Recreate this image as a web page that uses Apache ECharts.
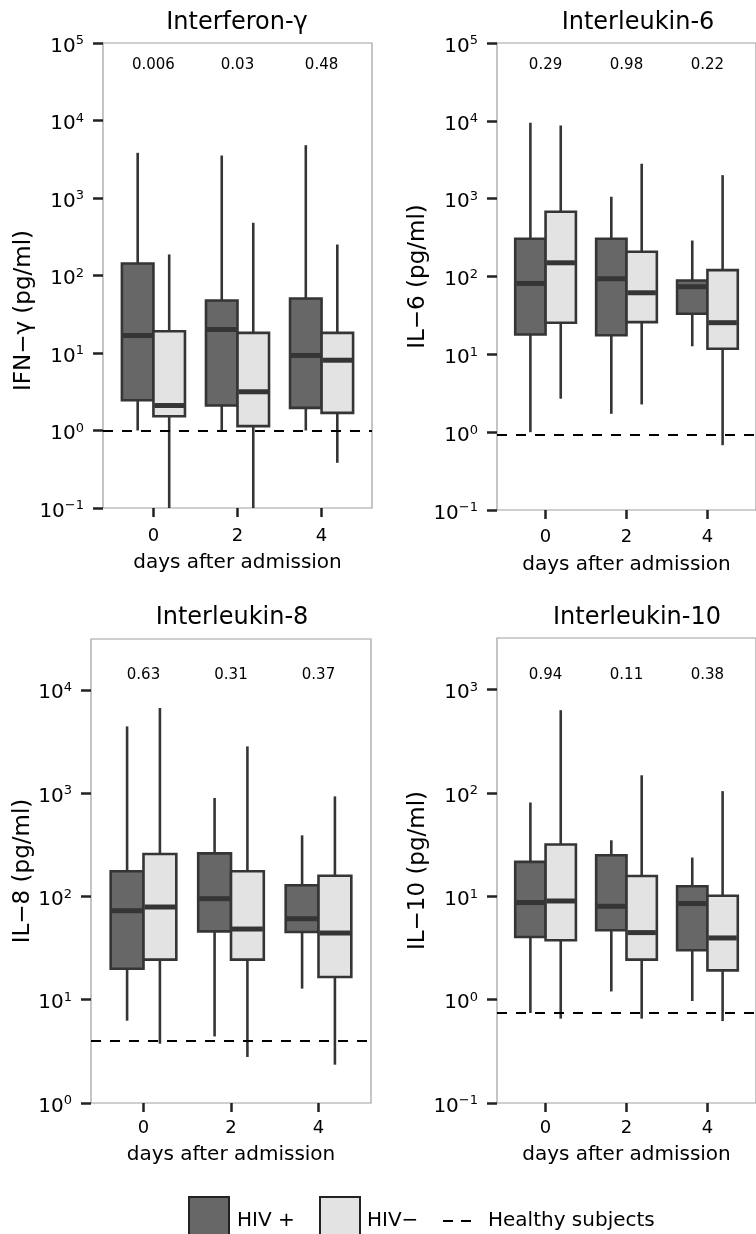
<!DOCTYPE html>
<html><head><meta charset="utf-8">
<script src="https://cdn.jsdelivr.net/npm/echarts@6/dist/echarts.min.js"></script>
<style>html,body{margin:0;padding:0;background:#fff}#c{width:756px;height:1234px}</style>
</head><body><div id="c"></div><script>
// ---------------- data ----------------
const days = [0, 2, 4];
// each row: [lower whisker, Q1, median, Q3, upper whisker]
const ifngHivPos = [[1.0, 2.46, 16.8, 143, 3830], [1.0, 2.1, 20.1, 47.6, 3535], [1.0, 1.96, 9.3, 50.5, 4800]];
const ifngHivNeg = [[0.1, 1.53, 2.1, 19.1, 187], [0.1, 1.14, 3.16, 18.2, 479], [0.383, 1.69, 8.07, 18.2, 251]];
const ifngHealthy = 1.0;
const ifngP = ['0.006', '0.03', '0.48'];

const il6HivPos = [[1.0, 18.0, 81.4, 305, 9450], [1.72, 17.6, 93.5, 305, 1058], [12.7, 33.2, 73.8, 89, 290]];
const il6HivNeg = [[2.69, 25.5, 150, 679, 8710], [2.27, 25.9, 61.8, 208, 2810], [0.68, 11.8, 25.5, 120.6, 2005]];
const il6Healthy = 0.915;
const il6P = ['0.29', '0.98', '0.22'];

const il8HivPos = [[6.26, 19.9, 72.7, 175, 4420], [4.41, 45.8, 95, 261, 897], [12.8, 45.2, 60.8, 128, 390]];
const il8HivNeg = [[3.75, 24.4, 78.9, 257, 6660], [2.79, 24.4, 48.3, 175, 2830], [2.35, 16.6, 44.2, 158.6, 929]];
const il8Healthy = 4.04;
const il8P = ['0.63', '0.31', '0.37'];

const il10HivPos = [[0.742, 4.04, 8.69, 21.5, 80.7], [1.2, 4.69, 8.0, 24.9, 34.8], [0.97, 3.0, 8.5, 12.5, 23.7]];
const il10HivNeg = [[0.655, 3.75, 9.0, 31.7, 631], [0.655, 2.44, 4.45, 15.7, 148], [0.62, 1.92, 3.95, 10.1, 104]];
const il10Healthy = 0.742;
const il10P = ['0.94', '0.11', '0.38'];

const titles = ['Interferon-γ', 'Interleukin-6', 'Interleukin-8', 'Interleukin-10'];
const yNames = ['IFN−γ (pg/ml)', 'IL−6 (pg/ml)', 'IL−8 (pg/ml)', 'IL−10 (pg/ml)'];
const xName = 'days after admission';
const yTicks = [
  [0.1, 1, 10, 100, 1000, 10000, 100000],
  [0.1, 1, 10, 100, 1000, 10000, 100000],
  [1, 10, 100, 1000, 10000],
  [0.1, 1, 10, 100, 1000]
];
const yRanges = [[0.1, 100000], [0.1, 100000], [1, 31000], [0.1, 3150]];
const legendNames = ['HIV +', 'HIV−', 'Healthy subjects'];

const panelsData = [
  { pos: ifngHivPos, neg: ifngHivNeg, healthy: ifngHealthy, p: ifngP },
  { pos: il6HivPos, neg: il6HivNeg, healthy: il6Healthy, p: il6P },
  { pos: il8HivPos, neg: il8HivNeg, healthy: il8Healthy, p: il8P },
  { pos: il10HivPos, neg: il10HivNeg, healthy: il10Healthy, p: il10P }
];

// ---------------- layout / style ----------------
const FONT = 'DejaVu Sans';
const DARK = '#676767', LIGHT = '#e3e3e3', STROKE = '#353535';
const layout = [
  { left: 103, top: 43, width: 269, height: 465, nameGap: 65, namePad: [0, 70, 0, 0], pTop: 22, tx: 237, ty: 11, xMargin: 19, xNameGap: 45 },
  { left: 497, top: 43, width: 270, height: 467, nameGap: 65, namePad: [0, 0, 0, 0], pTop: 22, tx: 638, ty: 11, xMargin: 18, xNameGap: 45 },
  { left: 91, top: 639, width: 280, height: 464, nameGap: 54, namePad: [0, 0, 0, 0], pTop: 36, tx: 232, ty: 606, xMargin: 16, xNameGap: 42 },
  { left: 497, top: 638, width: 270, height: 465, nameGap: 65, namePad: [0, 0, 0, 0], pTop: 37, tx: 637, ty: 606, xMargin: 16, xNameGap: 42 }
];
const OFF = 0.375, HW = 0.375;

function boxRender(offset, fill) {
  return function (params, api) {
    const xc = api.value(0) + offset;
    const lo = api.value(1), q1 = api.value(2), md = api.value(3), q3 = api.value(4), hi = api.value(5);
    const a = api.coord([xc - HW, q3]);
    const b = api.coord([xc + HW, q1]);
    const t = api.coord([xc, hi]);
    const btm = api.coord([xc, lo]);
    const m = api.coord([xc, md])[1];
    const ls = { stroke: STROKE, lineWidth: 2.6 };
    return {
      type: 'group', children: [
        { type: 'line', shape: { x1: t[0], y1: t[1], x2: t[0], y2: a[1] }, style: ls },
        { type: 'line', shape: { x1: btm[0], y1: b[1], x2: btm[0], y2: btm[1] }, style: ls },
        { type: 'rect', shape: { x: a[0], y: a[1], width: b[0] - a[0], height: b[1] - a[1] }, style: { fill: fill, stroke: STROKE, lineWidth: 2.6 } },
        { type: 'line', shape: { x1: a[0] + 1, y1: m, x2: b[0] - 1, y2: m }, style: { stroke: STROKE, lineWidth: 5 } }
      ]
    };
  };
}

function fmtExp(v) {
  const e = Math.round(Math.log10(v));
  return '{b|10}{s|' + (e < 0 ? '−' + (-e) : e) + '}';
}

const grids = [], xAxes = [], yAxes = [], series = [], graphics = [];
layout.forEach((L, i) => {
  const D = panelsData[i];
  grids.push({ left: L.left, top: L.top, width: L.width, height: L.height, show: true, borderColor: '#a0a0a0', borderWidth: 1.2, backgroundColor: 'transparent' });
  xAxes.push({
    gridIndex: i, type: 'value', min: -1.2, max: 5.2,
    axisLine: { show: false, onZero: false },
    axisTick: { show: true, customValues: days, length: 9, lineStyle: { color: '#222', width: 2.5 } },
    axisLabel: { customValues: days, fontSize: 18, fontFamily: FONT, color: '#000', margin: L.xMargin },
    splitLine: { show: false },
    name: xName, nameLocation: 'middle', nameGap: L.xNameGap,
    nameTextStyle: { fontSize: 20, fontFamily: FONT, color: '#000' }
  });
  yAxes.push({
    gridIndex: i, type: 'log', logBase: 10, min: yRanges[i][0], max: yRanges[i][1],
    axisLine: { show: false, onZero: false },
    axisTick: { show: true, customValues: yTicks[i], length: 10, lineStyle: { color: '#222', width: 2.5 } },
    axisLabel: {
      customValues: yTicks[i], margin: 19, formatter: fmtExp, padding: [7, 0, 0, 0],
      rich: {
        b: { fontSize: 20, fontFamily: FONT, color: '#000', lineHeight: 24 },
        s: { fontSize: 13, fontFamily: FONT, color: '#000', verticalAlign: 'top' }
      }
    },
    splitLine: { show: false },
    name: yNames[i], nameLocation: 'middle', nameGap: L.nameGap,
    nameTextStyle: { fontSize: 23, fontFamily: FONT, color: '#000', padding: L.namePad }
  });
  series.push({
    name: legendNames[0], type: 'custom', xAxisIndex: i, yAxisIndex: i, clip: true,
    renderItem: boxRender(-OFF, DARK),
    encode: { x: 0, y: [1, 2, 3, 4, 5] },
    data: days.map((d, k) => [d].concat(D.pos[k]))
  });
  series.push({
    name: legendNames[1], type: 'custom', xAxisIndex: i, yAxisIndex: i, clip: true,
    renderItem: boxRender(OFF, LIGHT),
    encode: { x: 0, y: [1, 2, 3, 4, 5] },
    data: days.map((d, k) => [d].concat(D.neg[k]))
  });
  series.push({
    name: legendNames[2], type: 'line', xAxisIndex: i, yAxisIndex: i, data: [], z: 5,
    markLine: {
      silent: true, symbol: 'none', animation: false,
      label: { show: false },
      lineStyle: { type: [10, 9], color: '#000', width: 2 },
      data: [{ yAxis: D.healthy }]
    }
  });
  const pTop = L.pTop;
  const pv = D.p;
  series.push({
    name: 'p', type: 'custom', xAxisIndex: i, yAxisIndex: i, clip: false, z: 6,
    encode: { x: 0 },
    data: days.map(d => [d]),
    renderItem: function (params, api) {
      const x = api.coord([api.value(0), 1])[0];
      return {
        type: 'text', x: x, y: params.coordSys.y + pTop,
        style: { text: pv[params.dataIndex], fill: '#000', fontSize: 15, fontFamily: FONT, align: 'center', verticalAlign: 'middle' }
      };
    }
  });
  graphics.push({
    type: 'text', x: L.tx, y: L.ty,
    style: { text: titles[i], fill: '#000', fontSize: 24, fontFamily: FONT, align: 'center', verticalAlign: 'top' }
  });
});

// legend (drawn as graphic elements)
graphics.push({ type: 'rect', shape: { x: 189, y: 1197, width: 40, height: 40 }, style: { fill: DARK, stroke: '#222', lineWidth: 2 } });
graphics.push({ type: 'text', x: 237, y: 1221, style: { text: legendNames[0], fill: '#000', fontSize: 20, fontFamily: FONT, verticalAlign: 'middle' } });
graphics.push({ type: 'rect', shape: { x: 320, y: 1197, width: 40, height: 40 }, style: { fill: LIGHT, stroke: '#222', lineWidth: 2 } });
graphics.push({ type: 'text', x: 367, y: 1221, style: { text: legendNames[1], fill: '#000', fontSize: 20, fontFamily: FONT, verticalAlign: 'middle' } });
graphics.push({ type: 'line', shape: { x1: 443, y1: 1221, x2: 471, y2: 1221 }, style: { stroke: '#000', lineWidth: 2, lineDash: [10, 8] } });
graphics.push({ type: 'text', x: 488, y: 1221, style: { text: legendNames[2], fill: '#000', fontSize: 20, fontFamily: FONT, verticalAlign: 'middle' } });

const chart = echarts.init(document.getElementById('c'), null, { renderer: 'canvas' });
chart.setOption({
  backgroundColor: '#fff',
  animation: false,
  grid: grids, xAxis: xAxes, yAxis: yAxes, series: series,
  graphic: graphics
});
</script></body></html>
